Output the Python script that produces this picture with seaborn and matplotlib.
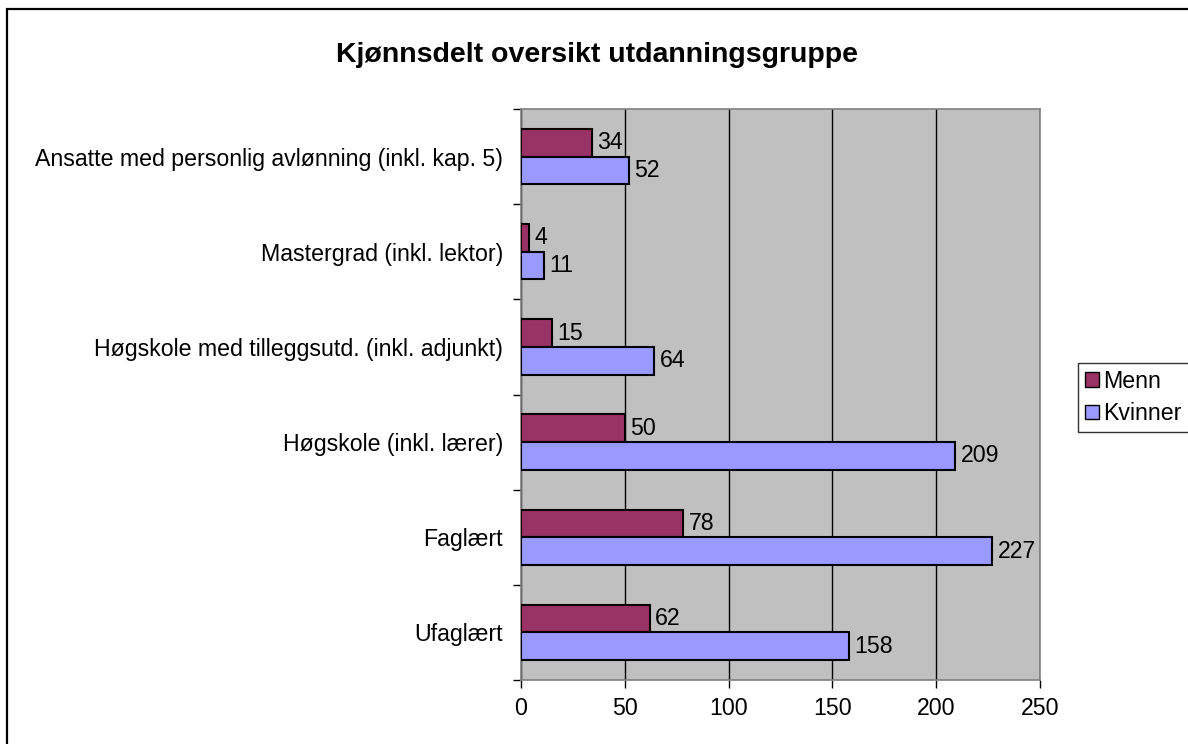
import matplotlib.pyplot as plt
import matplotlib.patches as mpatches
import pandas as pd
import seaborn as sns

categories = ["Ansatte med personlig avlønning (inkl. kap. 5)",
              "Mastergrad (inkl. lektor)",
              "Høgskole med tilleggsutd. (inkl. adjunkt)",
              "Høgskole (inkl. lærer)",
              "Faglært",
              "Ufaglært"]
menn = [34, 4, 15, 50, 78, 62]
kvinner = [52, 11, 64, 209, 227, 158]
x_ticks = [0, 50, 100, 150, 200, 250]

df = pd.DataFrame({
    "kategori": categories * 2,
    "antall": menn + kvinner,
    "kjonn": ["Menn"] * len(menn) + ["Kvinner"] * len(kvinner),
})

sns.set_style("white")
plt.rcParams["font.family"] = ["Liberation Sans", "DejaVu Sans"]
plt.rcParams["text.color"] = "black"
plt.rcParams["xtick.color"] = "black"
plt.rcParams["ytick.color"] = "black"
fs = 16.7

fig = plt.figure(figsize=(11.88, 7.44), dpi=100)
ax = fig.add_axes([521/1188, 64/744, 519/1188, 571/744])
ax.set_facecolor("#C0C0C0")

pal = {"Menn": "#993366", "Kvinner": "#9999FF"}
sns.barplot(data=df, y="kategori", x="antall", hue="kjonn", order=categories,
            hue_order=["Menn", "Kvinner"], palette=pal, orient="h",
            width=0.58, edgecolor="black", linewidth=1.5, saturation=1,
            ax=ax, legend=False, zorder=3)

for c in ax.containers:
    ax.bar_label(c, padding=4, fontsize=fs, color="black")

ax.set_xlim(0, 250)
ax.set_ylim(len(categories) - 0.5, -0.5)
ax.set_xticks(x_ticks)
ax.set_xticklabels([str(t) for t in x_ticks], fontsize=fs)
ax.tick_params(axis="x", length=6, width=1, color="black", pad=6, bottom=True)
ax.tick_params(axis="y", which="major", length=0, pad=13, labelsize=fs)
ax.set_yticks([i + 0.5 for i in range(-1, len(categories))], minor=True)
ax.tick_params(axis="y", which="minor", length=6, width=1, color="black", left=True)
ax.xaxis.grid(True, color="black", linewidth=1, zorder=0)
ax.set_axisbelow(True)
ax.set_xlabel("")
ax.set_ylabel("")
for s in ax.spines.values():
    s.set_color("#808080")
    s.set_linewidth(1.2)

fig.text(597/1188, 1 - 55/744, "Kjønnsdelt oversikt utdanningsgruppe",
         ha="center", va="center", fontsize=20.5, fontweight="bold")

handles = [mpatches.Patch(facecolor=pal[k], edgecolor="black", label=k)
           for k in ["Menn", "Kvinner"]]
fig.legend(handles=handles, loc="upper left",
           bbox_to_anchor=(1078/1188, 1 - 363/744), fontsize=fs,
           frameon=True, fancybox=False, edgecolor="black",
           handlelength=0.6, handleheight=0.6, handletextpad=0.2,
           borderpad=0.3, labelspacing=0.4, borderaxespad=0)

fig.patches.append(mpatches.Rectangle((7/1188, -0.1), 1.2, 1 - 9/744 + 0.1,
                                      transform=fig.transFigure, fill=False,
                                      edgecolor="black", linewidth=1.6))

fig.savefig("out.png", dpi=100)
